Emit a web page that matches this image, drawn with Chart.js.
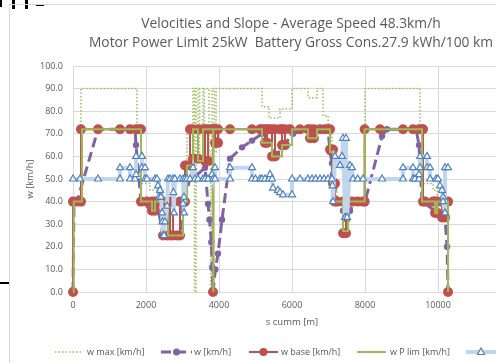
<!DOCTYPE html>
<html>
<head>
<meta charset="utf-8">
<script src="https://cdn.jsdelivr.net/npm/chart.js@4"></script>
<style>
  html, body { margin: 0; padding: 0; background: #fff; overflow: hidden; width: 496px; height: 363px; }
  #frame { position: absolute; left: 9px; top: 4px; width: 562px; height: 370px;
           border-left: 1px solid #d9d9d9; border-top: 1px solid #d9d9d9; }
  #c { position: absolute; left: 0; top: 0; }
  .mark { position: absolute; background: #000; }
</style>
</head>
<body>
<div class="mark" style="left:0;top:0;width:2px;height:7px"></div>
<div class="mark" style="left:12px;top:0;width:3px;height:9px"></div>
<div class="mark" style="left:25px;top:0;width:3px;height:9px"></div>
<div class="mark" style="left:36px;top:4px;width:8px;height:2px"></div>
<div class="mark" style="left:0;top:282px;width:10px;height:1.5px"></div>
<div id="frame"><canvas id="c" width="562" height="370" style="width:562px;height:370px"></canvas></div>
<script>
// Distance along the route [m] paired with speed [km/h]
const wMax = [[0,40],[219,40],[219,90],[1754,90],[1754,72],[1863,72],[1863,48],[2110,48],[2110,45],[2466,45],[2466,40],
  [2932,40],[2932,30],[3014,30],[3014,50],[3124,50],[3124,72],[3288,72],[3288,90],[3330,90],[3330,0],[3370,0],[3370,90],
  [3425,90],[3425,62],[3470,62],[3470,90],[3562,90],[3562,60],[3600,60],[3600,90],[3726,90],[3726,62],[3770,62],[3770,0],
  [3809,0],[3809,90],[3870,90],[3870,62],[3920,62],[3920,90],[5179,90],[5179,82],[5370,82],[5370,77],[5672,77],[5672,81],
  [6001,81],[6001,90],[6439,90],[6439,86],[6686,86],[6686,90],[6850,90],[6850,78],[6990,78],[6990,72],[7097,72],[7097,50],
  [7234,50],[7234,40],[8001,40],[8001,90],[9508,90],[9508,72],[9590,72],[9590,48],[9864,48],[9864,45],[9980,45],[9980,40],
  [10275,40],[10275,0]];

const wActual = [[0,0],[27,40],[110,40],[685,72],[1288,72],[1700,72],[1726,65],[1863,40],[2165,36],[2300,40],[2466,25],
  [2740,25],[2932,25],[3014,40],[3124,48],[3617,55],[3700,39],[3740,32],[3790,22],[3815,11],[3836,0],[3900,10],[3973,17],
  [4083,32],[4302,59],[4631,64],[4905,67],[5179,70],[5316,66],[5590,61],[5727,64],[6028,70],[6400,72],[6987,72],[7042,62],
  [7097,57],[7124,52],[7234,40],[7398,36],[7508,32],[7590,36],[7700,40],[8001,40],[8467,69],[8600,72],[9400,72],[9480,65],
  [9562,40],[9919,36],[10111,34],[10193,33],[10248,20],[10275,0]];

const wBase = [[0,0],[0,40],[110,40],[219,40],[219,72],[685,72],[1288,72],[1562,72],[1726,72],[1810,72],[1863,72],[1863,40],
  [2028,40],[2165,40],[2165,36],[2247,36],[2247,40],[2384,40],[2466,40],[2466,25],[2576,25],[2658,25],[2658,40],[2740,40],
  [2740,25],[2850,25],[2932,25],[2932,40],[3014,40],[3069,40],[3069,56],[3124,56],[3206,56],[3206,72],[3288,72],[3288,59],
  [3425,59],[3425,72],[3562,72],[3617,72],[3617,58],[3700,58],[3700,72],[3809,72],[3836,72],[3836,0],[3850,72],[3891,72],
  [3891,66],[3973,66],[3973,72],[4302,72],[4905,72],[5124,72],[5179,72],[5261,72],[5261,66],[5316,66],[5316,72],[5370,72],
  [5453,72],[5453,60],[5535,60],[5535,72],[5672,72],[5727,72],[5727,65],[5809,65],[5809,72],[5946,72],[6220,72],[6439,72],
  [6494,72],[6494,68],[6600,68],[6600,72],[6768,72],[6905,72],[6987,72],[7042,72],[7042,63],[7124,63],[7124,48],[7179,48],
  [7179,40],[7234,40],[7398,40],[7398,26],[7480,26],[7480,40],[7645,40],[7800,40],[7946,40],[7990,40],[7990,72],[8412,72],
  [9042,72],[9316,72],[9480,72],[9562,72],[9590,72],[9590,40],[9645,40],[9864,40],[9919,40],[9919,35],[9980,35],[9980,40],
  [10111,40],[10111,33],[10193,33],[10193,40],[10275,40],[10275,0]];

const wPowerLimit = [[0,0],[20,0],[20,40],[247,40],[247,72],[1863,72],[1863,40],[2165,40],[2165,36],[2247,36],[2247,40],
  [2603,40],[2603,25],[3014,25],[3014,40],[3124,40],[3124,56],[3288,56],[3288,72],[3425,72],[3425,58],[3562,58],[3562,72],
  [3836,72],[3836,0],[3850,0],[3850,72],[5179,72],[5179,66],[5453,66],[5453,60],[5727,60],[5727,65],[6001,65],[6001,72],
  [6439,72],[6439,68],[6686,68],[6686,72],[7042,72],[7042,62],[7124,62],[7124,40],[7398,40],[7398,27],[7535,27],[7535,40],
  [7990,40],[7990,72],[9562,72],[9562,40],[9919,40],[9919,35],[9980,35],[9980,40],[10275,40],[10275,0]];

const wSlope = [[0,50],[192,50],[685,50],[1288,50],[1288,55],[1562,55],[1562,50],[1699,50],[1726,52],[1726,60],[1891,60],
  [1891,55],[1973,55],[1973,50],[2028,50],[2247,50],[2302,50],[2330,47],[2356,42],[2384,45],[2411,42],[2439,35],[2450,31],
  [2466,25],[2493,25],[2521,31],[2576,38],[2603,50],[2658,50],[2740,50],[2750,44],[2767,35],[2795,50],[2932,50],[3014,50],
  [3014,39],[3041,42],[3041,35],[3069,50],[3124,50],[3206,50],[3288,55],[3343,50],[3425,50],[3562,50],[3617,50],[3700,50],
  [3809,52],[3836,50],[3891,55],[3891,50],[4302,50],[4302,55],[4905,55],[4905,50],[5000,50],[5124,50],[5179,50],[5261,50],
  [5370,50],[5398,52],[5453,50],[5480,46],[5617,45],[5672,44],[5754,43],[6001,43],[6001,50],[6220,50],[6439,50],[6550,50],
  [6650,50],[6768,50],[6880,50],[6987,50],[7097,50],[7110,47],[7124,40],[7179,60],[7316,56],[7371,60],[7398,68],[7453,33],
  [7480,68],[7508,33],[7590,56],[7645,55],[7672,50],[7800,50],[7946,50],[8467,50],[9042,50],[9042,55],[9316,55],[9316,50],
  [9371,50],[9480,50],[9480,52],[9508,55],[9508,60],[9700,60],[9700,55],[9782,55],[9782,50],[9946,50],[10001,50],[10056,47],
  [10111,45],[10138,42],[10138,40],[10193,35],[10193,55],[10275,55]];

const seriesNames = ['w max [km/h]', 'w [km/h]', 'w base [km/h]', 'w P lim [km/h]', 'w slope [km/h]'];
const titleLines = ['Velocities and Slope - Average Speed 48.3km/h',
                    'Motor Power Limit 25kW  Battery Gross Cons.27.9 kWh/100 km'];
const xTicks = [0, 2000, 4000, 6000, 8000, 10000, 12000];
const yTicks = [0, 10, 20, 30, 40, 50, 60, 70, 80, 90, 100];

const GREEN = '#9BBB59', PURPLE = '#8064A2', RED = '#C0504D', BLUE = '#4F81BD', LIGHTBLUE = '#C3D5EC';
const TEXT = '#595959', GRID = '#d9d9d9';
const FONT = "'Open Sans', 'DejaVu Sans', sans-serif";

const toXY = pts => pts.map(([x, y]) => ({x, y}));

Chart.defaults.font.family = FONT;
Chart.defaults.color = TEXT;

// Title and legend drawn at fixed spots inside the chart frame
const frameText = {
  id: 'frameText',
  afterDraw(chart) {
    const ctx = chart.ctx;
    ctx.save();
    ctx.fillStyle = TEXT;
    ctx.textAlign = 'center';
    ctx.textBaseline = 'middle';
    ctx.font = `13.8px ${FONT}`;
    ctx.fillText(titleLines[0], 281, 19);
    ctx.fillText(titleLines[1], 281, 38);

    const y = 347;
    const items = [
      {sx: 45, w: 28, tx: 77},
      {sx: 151, w: 31, tx: 184},
      {sx: 239, w: 29, tx: 271},
      {sx: 347, w: 29, tx: 380},
      {sx: 456, w: 30, tx: 490}
    ];
    items.forEach((it, i) => {
      const ds = chart.data.datasets[i];
      ctx.save();
      ctx.lineCap = 'butt';
      ctx.strokeStyle = ds.borderColor;
      ctx.lineWidth = ds.borderWidth;
      ctx.setLineDash(ds.borderDash || []);
      ctx.beginPath();
      ctx.moveTo(it.sx, y);
      ctx.lineTo(it.sx + it.w, y);
      ctx.stroke();
      ctx.setLineDash([]);
      const cx = it.sx + it.w / 2;
      if (i === 1 || i === 2) {
        ctx.fillStyle = ds.borderColor;
        ctx.beginPath();
        ctx.arc(cx, y, i === 1 ? 3.5 : 4, 0, Math.PI * 2);
        ctx.fill();
      } else if (i === 4) {
        ctx.fillStyle = '#fff';
        ctx.strokeStyle = BLUE;
        ctx.lineWidth = 1.2;
        ctx.beginPath();
        ctx.moveTo(cx, y - 4);
        ctx.lineTo(cx + 3.6, y + 2.5);
        ctx.lineTo(cx - 3.6, y + 2.5);
        ctx.closePath();
        ctx.fill();
        ctx.stroke();
      }
      ctx.restore();
      ctx.fillStyle = TEXT;
      ctx.textAlign = 'left';
      ctx.textBaseline = 'middle';
      ctx.font = `9px ${FONT}`;
      ctx.fillText(seriesNames[i], it.tx, y);
    });
    ctx.restore();
  }
};

new Chart(document.getElementById('c'), {
  type: 'line',
  data: {
    datasets: [
      { label: seriesNames[0], data: toXY(wMax), borderColor: GREEN, borderWidth: 1.5, borderDash: [1.5, 2],
        pointRadius: 0, order: 5, clip: false },
      { label: seriesNames[1], data: toXY(wActual), borderColor: PURPLE, backgroundColor: PURPLE, borderWidth: 3,
        borderDash: [10, 5], pointRadius: 3.2, pointBorderWidth: 0, pointBackgroundColor: PURPLE, order: 4, clip: false },
      { label: seriesNames[2], data: toXY(wBase), borderColor: RED, backgroundColor: RED, borderWidth: 2,
        pointRadius: 5, pointBorderWidth: 0, pointBackgroundColor: RED, order: 3, clip: false },
      { label: seriesNames[3], data: toXY(wPowerLimit), borderColor: GREEN, borderWidth: 2,
        pointRadius: 0, order: 2, clip: false },
      { label: seriesNames[4], data: toXY(wSlope), borderColor: LIGHTBLUE, borderWidth: 4,
        pointStyle: 'triangle', pointRadius: 4, pointBackgroundColor: '#ffffff', pointBorderColor: BLUE,
        pointBorderWidth: 1.2, order: 1, clip: false }
    ]
  },
  options: {
    responsive: false,
    devicePixelRatio: 1,
    animation: false,
    events: [],
    layout: { padding: { top: 61, right: 61, bottom: 0, left: 0 } },
    elements: { line: { tension: 0, fill: false } },
    plugins: { legend: { display: false }, title: { display: false }, tooltip: { enabled: false } },
    scales: {
      x: {
        type: 'linear', min: 0, max: 12000,
        afterFit: s => { s.height = 83; },
        afterBuildTicks: s => { s.ticks = xTicks.map(v => ({value: v})); },
        grid: { color: GRID, drawTicks: false },
        border: { color: GRID },
        ticks: { padding: 8, font: { size: 9 }, color: TEXT, maxRotation: 0, callback: v => String(v) },
        title: { display: true, text: 's cumm [m]', color: TEXT, font: { size: 9.5 }, padding: { top: 0, bottom: 47 } }
      },
      y: {
        min: 0, max: 100,
        afterFit: s => { s.width = 63; },
        afterBuildTicks: s => { s.ticks = yTicks.map(v => ({value: v})); },
        grid: { color: GRID, drawTicks: false },
        border: { color: GRID },
        ticks: { padding: 10, font: { size: 9 }, color: TEXT, callback: v => Number(v).toFixed(1) },
        title: { display: true, text: 'w [km/h]', color: TEXT, font: { size: 9.5 }, padding: { top: 15, bottom: 0 } }
      }
    }
  },
  plugins: [frameText]
});
</script>
</body>
</html>
